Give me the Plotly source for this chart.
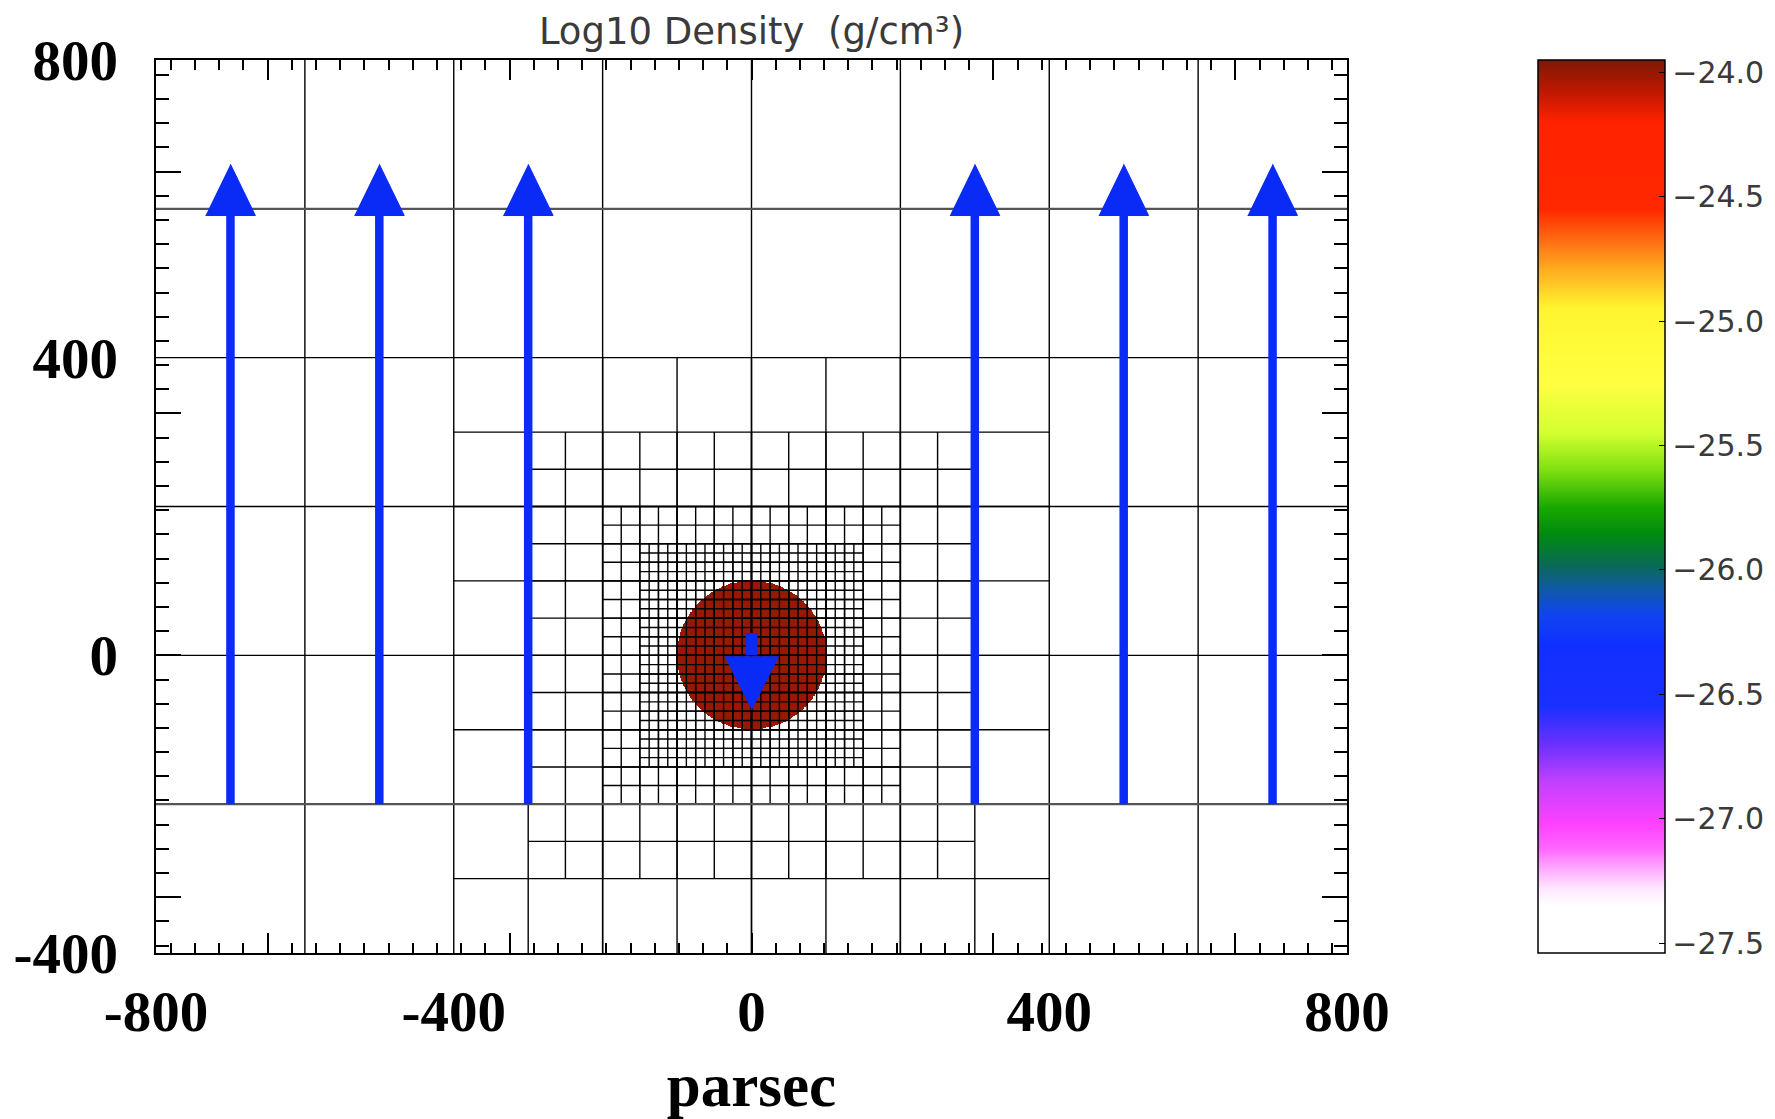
import numpy as np
import plotly.graph_objects as go

# ---------------- data ----------------
# AMR refinement levels: cell size and box bounds (parsec)
amr_cell_size = [200.0, 100.0, 50.0, 25.0, 12.5]
amr_x_min = [-800.0, -400.0, -300.0, -200.0, -150.0]
amr_x_max = [800.0, 400.0, 300.0, 200.0, 150.0]
amr_y_min = [-400.0, -400.0, -300.0, -200.0, -150.0]
amr_y_max = [800.0, 400.0, 300.0, 200.0, 150.0]
emphasised_rows = [600.0, -200.0]

# dense cloud
cloud_center = [0.0, 0.0]
cloud_radius = 100.0
cloud_log_density = -24.0

# ambient flow arrows
flow_arrow_x = [-700.0, -500.0, -300.0, 300.0, 500.0, 700.0]
flow_arrow_tail_y = -200.0
flow_arrow_tip_y = 660.0
flow_head_length = 69.0
flow_head_width = 67.0

# cloud motion arrow
cloud_arrow_x = 0.0
cloud_arrow_tail_y = 30.0
cloud_arrow_tip_y = -73.0
cloud_head_length = 71.0
cloud_head_width = 72.0

# axes
x_range = [-800.0, 800.0]
y_range = [-400.0, 800.0]
x_tick_labels = [-800, -400, 0, 400, 800]
y_tick_labels = [-400, 0, 400, 800]
tick_unit_pc = 325.0          # spacing of major tick marks
minor_per_major = 10

# colour bar
cb_min, cb_max = -27.54, -23.95
cb_ticks = [-27.5, -27.0, -26.5, -26.0, -25.5, -25.0, -24.5, -24.0]
cb_stop_values = [-27.54, -27.35, -27.28, -27.2, -27.12, -27.02, -26.85, -26.7,
                  -26.55, -26.3, -26.18, -26.08, -25.98, -25.86, -25.75, -25.6,
                  -25.45, -25.25, -24.95, -24.8, -24.66, -24.55, -24.2, -24.08, -23.95]
cb_stop_colors = ["#ffffff", "#ffffff", "#ffe6ff", "#ffa8ff", "#ff66ff", "#ff40ff", "#c040ff", "#6a30ff",
                  "#1a30ff", "#1030ff", "#1044f0", "#1058a8", "#0a6a55", "#008a10", "#18a800", "#7ee010",
                  "#d2ff30", "#ffff40", "#fff530", "#ffb020", "#ff6410", "#ff2800", "#ff2200", "#c01800", "#7e1806"]

BLUE = "#0a2af5"

# the page body has an 8 px margin
PAGE_OFF = 8
FIG_W, FIG_H = 1775 - 2 * PAGE_OFF, 1119 - PAGE_OFF
PLOT_L, PLOT_R, PLOT_T, PLOT_B = 156, 1347, 60, 953   # plot area in page pixels

# ---------------- build ----------------
colorscale = [[(v - cb_min) / (cb_max - cb_min), c] for v, c in zip(cb_stop_values, cb_stop_colors)]

hx = np.arange(-110.0, 110.5, 1.0)
hy = np.arange(-110.0, 110.5, 1.0)
XX, YY = np.meshgrid(hx, hy)
rr = np.hypot(XX - cloud_center[0], YY - cloud_center[1])
zz = np.where(rr <= cloud_radius, cloud_log_density, np.nan)

gx, gy = [], []
for s, x0, x1, y0, y1 in zip(amr_cell_size, amr_x_min, amr_x_max, amr_y_min, amr_y_max):
    nx = int(round((x1 - x0) / s))
    ny = int(round((y1 - y0) / s))
    for k in range(1, nx):
        xv = x0 + k * s
        gx += [xv, xv, None]
        gy += [y0, y1, None]
    for k in range(1, ny):
        yv = y0 + k * s
        gx += [x0, x1, None]
        gy += [yv, yv, None]

ex, ey = [], []
for yv in emphasised_rows:
    ex += [x_range[0], x_range[1], None]
    ey += [yv, yv, None]

sx, sy, tx, ty = [], [], [], []
for xa in flow_arrow_x:
    base = flow_arrow_tip_y - flow_head_length
    sx += [xa, xa, None]
    sy += [flow_arrow_tail_y, base + 2, None]
    tx += [xa - flow_head_width / 2, xa + flow_head_width / 2, xa, None]
    ty += [base, base, flow_arrow_tip_y, None]

cbase = cloud_arrow_tip_y + cloud_head_length
cx_tri = [cloud_arrow_x - cloud_head_width / 2, cloud_arrow_x + cloud_head_width / 2, cloud_arrow_x]
cy_tri = [cbase, cbase, cloud_arrow_tip_y]

plot_w = PLOT_R - PLOT_L

fig = go.Figure()
fig.add_trace(go.Heatmap(
    x=hx, y=hy, z=zz, zmin=cb_min, zmax=cb_max, colorscale=colorscale,
    hoverinfo="skip", showscale=True,
    colorbar=dict(x=(1538 - PLOT_L) / plot_w, xanchor="left", xpad=0, ypad=0,
                  y=0.5, yanchor="middle", len=1.0, lenmode="fraction",
                  thickness=127, thicknessmode="pixels",
                  outlinewidth=1.5, outlinecolor="black",
                  tickvals=cb_ticks, ticktext=[("\u2212%.1f" % abs(v)) for v in cb_ticks],
                  ticks="inside", ticklen=6, tickcolor="black", tickwidth=1,
                  tickfont=dict(family="DejaVu Sans", size=30, color="#3a3a3a")),
    xaxis="x", yaxis="y"))

fig.add_trace(go.Scatter(x=gx, y=gy, mode="lines", line=dict(color="black", width=1.4),
                         hoverinfo="skip", showlegend=False, xaxis="x2", yaxis="y2"))
fig.add_trace(go.Scatter(x=ex, y=ey, mode="lines", line=dict(color="#555555", width=2.4),
                         hoverinfo="skip", showlegend=False, xaxis="x2", yaxis="y2"))
fig.add_trace(go.Scatter(x=sx, y=sy, mode="lines", line=dict(color=BLUE, width=8.5),
                         hoverinfo="skip", showlegend=False, xaxis="x2", yaxis="y2"))
fig.add_trace(go.Scatter(x=tx, y=ty, mode="lines", fill="toself", fillcolor=BLUE,
                         line=dict(color=BLUE, width=1), hoverinfo="skip", showlegend=False,
                         xaxis="x2", yaxis="y2"))
fig.add_trace(go.Scatter(x=[cloud_arrow_x, cloud_arrow_x], y=[cloud_arrow_tail_y, cbase + 2],
                         mode="lines", line=dict(color=BLUE, width=12),
                         hoverinfo="skip", showlegend=False, xaxis="x2", yaxis="y2"))
fig.add_trace(go.Scatter(x=cx_tri, y=cy_tri, mode="lines", fill="toself", fillcolor=BLUE,
                         line=dict(color=BLUE, width=1), hoverinfo="skip", showlegend=False,
                         xaxis="x2", yaxis="y2"))

major_x = [k * tick_unit_pc for k in range(-2, 3)]
major_y = [k * tick_unit_pc for k in range(-1, 3)]
minor_dt = tick_unit_pc / minor_per_major
label_font = dict(family="Liberation Serif", size=57, color="black", weight="bold")

fig.update_layout(
    width=FIG_W, height=FIG_H,
    margin=dict(l=PLOT_L - PAGE_OFF, r=FIG_W - (PLOT_R - PAGE_OFF),
                t=PLOT_T - PAGE_OFF, b=FIG_H - (PLOT_B - PAGE_OFF), pad=0, autoexpand=False),
    paper_bgcolor="white", plot_bgcolor="white",
    showlegend=False,
    title=dict(text="Log10 Density  (g/cm\u00b3)", x=0.5, xref="paper", xanchor="center",
               y=1 - (31 - PAGE_OFF) / FIG_H, yref="container", yanchor="middle",
               font=dict(family="DejaVu Sans", size=37, color="#3a3a3a")),
    xaxis=dict(range=x_range, showgrid=False, zeroline=False, showline=True, mirror="ticks",
               linecolor="black", linewidth=2, tickvals=major_x, showticklabels=False,
               ticks="inside", ticklen=20, tickwidth=1.6, tickcolor="black",
               minor=dict(ticks="inside", ticklen=10, tickwidth=1.6, tickcolor="black",
                          dtick=minor_dt, tick0=0, showgrid=False)),
    yaxis=dict(range=y_range, showgrid=False, zeroline=False, showline=True, mirror="ticks",
               linecolor="black", linewidth=2, tickvals=major_y, showticklabels=False,
               ticks="inside", ticklen=25, tickwidth=1.6, tickcolor="black",
               minor=dict(ticks="inside", ticklen=13, tickwidth=1.6, tickcolor="black",
                          dtick=minor_dt, tick0=0, showgrid=False)),
    xaxis2=dict(range=x_range, overlaying="x", anchor="y2", side="bottom", showgrid=False,
                zeroline=False, showline=False, ticks="", tickvals=x_tick_labels,
                ticktext=[str(v) for v in x_tick_labels], tickfont=label_font,
                ticklabelstandoff=20,
                title=dict(text="<b>parsec</b>", standoff=21,
                           font=dict(family="Liberation Serif", size=61, color="black"))),
    yaxis2=dict(range=y_range, overlaying="y", anchor="x2", side="left", showgrid=False,
                zeroline=False, showline=False, ticks="", tickvals=y_tick_labels,
                ticktext=[str(v) for v in y_tick_labels], tickfont=label_font,
                ticklabelstandoff=37),
)

fig.write_html("out.html")
